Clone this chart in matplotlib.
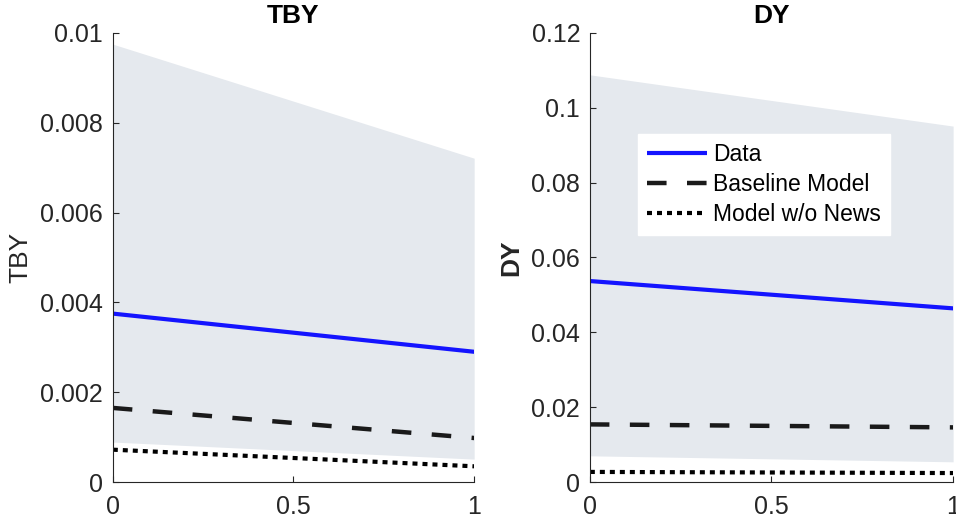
import numpy as np
import matplotlib
matplotlib.use('Agg')
import matplotlib.pyplot as plt

plt.rcParams['font.family'] = ['Liberation Sans', 'DejaVu Sans']

horizon = [0, 1]

# TBY panel
tby_data = [0.00375, 0.0029]
tby_base = [0.00165, 0.00098]
tby_nonews = [0.00072, 0.00035]
tby_lo = [0.00089, 0.00051]
tby_hi = [0.00975, 0.00721]

# DY panel
dy_data = [0.0537, 0.0464]
dy_base = [0.0154, 0.0146]
dy_nonews = [0.0027, 0.0024]
dy_lo = [0.0070, 0.0054]
dy_hi = [0.1088, 0.0951]

tby_ticks = [0, 0.002, 0.004, 0.006, 0.008, 0.01]
tby_ticklabels = ['0', '0.002', '0.004', '0.006', '0.008', '0.01']
dy_ticks = [0, 0.02, 0.04, 0.06, 0.08, 0.1, 0.12]
dy_ticklabels = ['0', '0.02', '0.04', '0.06', '0.08', '0.1', '0.12']

band_col = '#e5e9ee'
txt_col = '#262626'

fig = plt.figure(figsize=(9.56, 5.29), dpi=100)
ax1 = fig.add_axes([0.118, 0.0888, 0.378, 0.849])
ax2 = fig.add_axes([0.617, 0.0888, 0.380, 0.849])

panels = [
    (ax1, 'TBY', tby_data, tby_base, tby_nonews, tby_lo, tby_hi, tby_ticks, tby_ticklabels, 'normal'),
    (ax2, 'DY', dy_data, dy_base, dy_nonews, dy_lo, dy_hi, dy_ticks, dy_ticklabels, 'bold'),
]

for ax, name, d, b, n, lo, hi, ticks, labels, ylw in panels:
    ax.fill_between(horizon, lo, hi, color=band_col, lw=0)
    ax.plot(horizon, d, color='#1414ff', lw=3, label='Data', solid_capstyle='butt')
    ax.plot(horizon, b, color='#1a1a1a', lw=3.2, ls=(0, (4.4, 4.6)), label='Baseline Model')
    ax.plot(horizon, n, color='black', lw=3, ls=(0, (1.2, 1.2)), label='Model w/o News')
    ax.set_xlim(0, 1)
    ax.set_ylim(ticks[0], ticks[-1])
    ax.set_xticks([0, 0.5, 1])
    ax.set_xticklabels(['0', '0.5', '1'])
    ax.set_yticks(ticks)
    ax.set_yticklabels(labels)
    ax.set_title(name, fontsize=19, fontweight='bold', pad=7)
    ax.set_ylabel(name, fontsize=19, fontweight=ylw, color=txt_col, labelpad=6)
    ax.spines['top'].set_visible(False)
    ax.spines['right'].set_visible(False)
    for s in ('left', 'bottom'):
        ax.spines[s].set_color(txt_col)
        ax.spines[s].set_linewidth(0.8)
    ax.tick_params(direction='in', length=4, width=0.8, colors=txt_col,
                   labelsize=18)
    ax.tick_params(axis='y', pad=7)
    ax.tick_params(axis='x', pad=9)
    ax.set_facecolor('white')

leg = ax2.legend(loc='upper left', bbox_to_anchor=(0.132, 0.775), fontsize=16.5,
                 frameon=True, fancybox=False, edgecolor='white', framealpha=1,
                 handlelength=2.6, handletextpad=0.3, borderpad=0.4,
                 labelspacing=0.3, borderaxespad=0)

fig.savefig('out.png', dpi=100)
